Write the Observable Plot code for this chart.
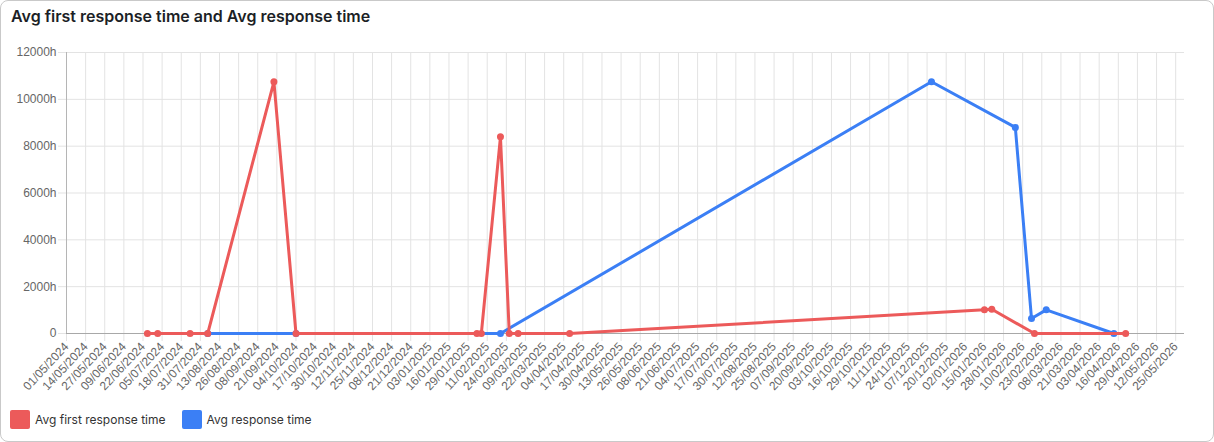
<!DOCTYPE html>
<html>
<head>
<meta charset="utf-8">
<script src="https://cdn.jsdelivr.net/npm/d3@7"></script>
<script src="https://cdn.jsdelivr.net/npm/@observablehq/plot@0.6"></script>
<style>
  html, body { margin: 0; padding: 0; background: #fff; }
  #card {
    position: absolute; left: 0; top: 0;
    width: 1212px; height: 440px;
    border: 1px solid #c9c9c9; border-radius: 8px;
    background: #fff; overflow: hidden;
  }
  #title {
    position: absolute; left: 10px; top: 5px;
    font: 600 16px Inter, "Noto Sans", sans-serif; color: #1c1f26;
  }
  #chart { position: absolute; left: 0; top: 40px; }
  #legend {
    position: absolute; left: 9px; top: 409px;
    display: flex; align-items: center;
    font: 12px Inter, "Liberation Sans", sans-serif; color: #333;
  }
  .item { display: flex; align-items: center; margin-right: 16px; }
  .sw { width: 20px; height: 19px; border-radius: 2px; margin-right: 5px; }
</style>
</head>
<body>
<div id="card">
  <div id="title">Avg first response time and Avg response time</div>
  <div id="chart"></div>
  <div id="legend"></div>
</div>
<script>
// ---- data ----
const seriesNames = ["Avg first response time", "Avg response time"];
const seriesColors = ["#ec5a5a", "#3b7ff5"];

const firstResponseDates = [
  "2024-06-25", "2024-07-02", "2024-07-24", "2024-08-05", "2024-09-19", "2024-10-04",
  "2025-02-04", "2025-02-07", "2025-02-20", "2025-02-26", "2025-03-04", "2025-04-08",
  "2026-01-15", "2026-01-20", "2026-02-18", "2026-04-21"
];
const firstResponseHours = [
  0, 0, 0, 0, 10750, 0,
  0, 0, 8400, 0, 0, 0,
  1010, 1035, 0, 0
];

const responseDates = [
  "2024-08-05", "2024-10-04", "2025-02-20", "2025-12-10",
  "2026-02-05", "2026-02-16", "2026-02-26", "2026-04-13"
];
const responseHours = [
  0, 0, 0, 10750,
  8800, 640, 1010, 0
];

const xTickLabels = [
  "01/05/2024","14/05/2024","27/05/2024","09/06/2024","22/06/2024","05/07/2024","18/07/2024",
  "31/07/2024","13/08/2024","26/08/2024","08/09/2024","21/09/2024","04/10/2024","17/10/2024",
  "30/10/2024","12/11/2024","25/11/2024","08/12/2024","21/12/2024","03/01/2025","16/01/2025",
  "29/01/2025","11/02/2025","24/02/2025","09/03/2025","22/03/2025","04/04/2025","17/04/2025",
  "30/04/2025","13/05/2025","26/05/2025","08/06/2025","21/06/2025","04/07/2025","17/07/2025",
  "30/07/2025","12/08/2025","25/08/2025","07/09/2025","20/09/2025","03/10/2025","16/10/2025",
  "29/10/2025","11/11/2025","24/11/2025","07/12/2025","20/12/2025","02/01/2026","15/01/2026",
  "28/01/2026","10/02/2026","23/02/2026","08/03/2026","21/03/2026","03/04/2026","16/04/2026",
  "29/04/2026","12/05/2026","25/05/2026"
];
const yTicks = [0, 2000, 4000, 6000, 8000, 10000, 12000];
const xDomain = ["2024-05-01", "2026-05-31"];

// ---- build ----
const parseISO = d3.utcParse("%Y-%m-%d");
const parseDMY = d3.utcParse("%d/%m/%Y");
const fmtDMY = d3.utcFormat("%d/%m/%Y");
const xTicks = xTickLabels.map(parseDMY);

const red = firstResponseDates.map((d, i) => ({date: parseISO(d), value: firstResponseHours[i]}));
const blue = responseDates.map((d, i) => ({date: parseISO(d), value: responseHours[i]}));

const gridColor = "#e3e3e3";
const tickFont = '12px "Liberation Sans", Arial, sans-serif';

const chart = Plot.plot({
  width: 1210,
  height: 360,
  marginLeft: 65,
  marginRight: 27,
  marginTop: 11,
  marginBottom: 68,
  style: {font: tickFont, color: "#666", background: "transparent", overflow: "visible"},
  x: {type: "utc", domain: xDomain.map(parseISO)},
  y: {domain: [0, 12000]},
  marks: [
    Plot.gridX(xTicks, {stroke: gridColor, strokeOpacity: 1}),
    Plot.gridY(yTicks, {stroke: gridColor, strokeOpacity: 1}),
    Plot.axisX(xTicks, {
      tickFormat: fmtDMY, tickRotate: -47, tickSize: 8, tickPadding: 3,
      stroke: gridColor, strokeOpacity: 1, fill: "#666", label: null
    }),
    Plot.axisY(yTicks, {
      tickFormat: d => d === 0 ? "0" : d + "h", tickSize: 8, tickPadding: 2,
      stroke: gridColor, strokeOpacity: 1, fill: "#666", label: null
    }),
    Plot.ruleX([parseISO(xDomain[0])], {stroke: "#b5b5b5"}),
    Plot.ruleY([0], {stroke: "#a8a8a8"}),
    Plot.line(blue, {x: "date", y: "value", stroke: seriesColors[1], strokeWidth: 3, curve: "linear"}),
    Plot.dot(blue, {x: "date", y: "value", fill: seriesColors[1], r: 3.5}),
    Plot.line(red, {x: "date", y: "value", stroke: seriesColors[0], strokeWidth: 3, curve: "linear"}),
    Plot.dot(red, {x: "date", y: "value", fill: seriesColors[0], r: 3.5})
  ]
});
document.getElementById("chart").appendChild(chart);

const legend = document.getElementById("legend");
seriesNames.forEach((name, i) => {
  const item = document.createElement("div");
  item.className = "item";
  const sw = document.createElement("div");
  sw.className = "sw";
  sw.style.background = seriesColors[i];
  const t = document.createElement("span");
  t.textContent = name;
  item.appendChild(sw); item.appendChild(t);
  legend.appendChild(item);
});
</script>
</body>
</html>
